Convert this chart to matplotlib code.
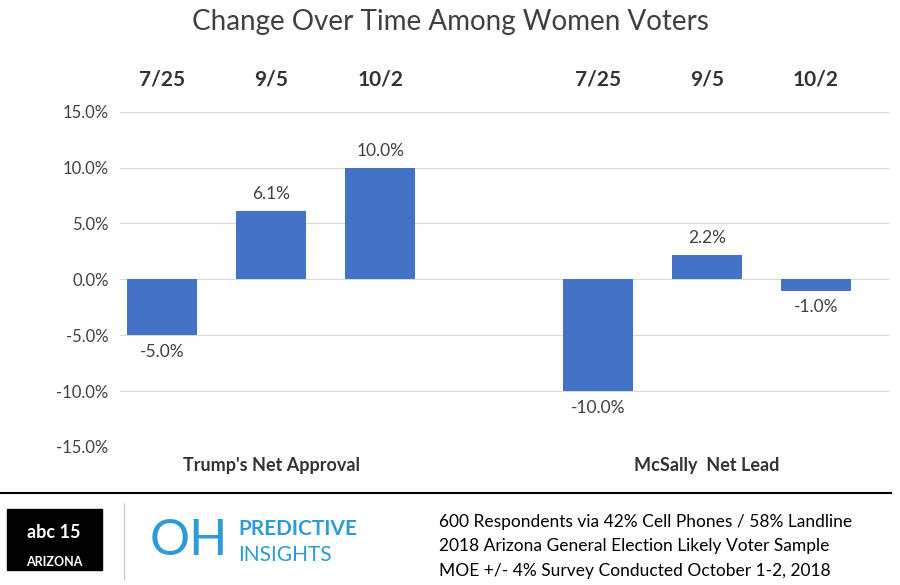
import matplotlib.pyplot as plt
from matplotlib.patches import Rectangle

plt.rcParams['font.family'] = ['Lato', 'DejaVu Sans']

dates = ['7/25', '9/5', '10/2', '7/25', '9/5', '10/2']
values = [-5.0, 6.1, 10.0, -10.0, 2.2, -1.0]
positions = [0, 1, 2, 4, 5, 6]
groups = ["Trump's Net Approval", "McSally  Net Lead"]
group_centers = [1, 5]
yticks = [-15, -10, -5, 0, 5, 10, 15]
footer = ['600 Respondents via 42% Cell Phones / 58% Landline',
          '2018 Arizona General Election Likely Voter Sample',
          'MOE +/- 4% Survey Conducted October 1-2, 2018']

fig = plt.figure(figsize=(9, 5.85), dpi=100)
ax = fig.add_axes([0.133, 0.236, 0.856, 0.573])
ax.bar(positions, values, width=0.64, color='#4472C4', zorder=3)
ax.set_xlim(-0.39, 6.68)
ax.set_ylim(-15, 15)
ax.set_yticks(yticks)
ax.set_yticklabels([f'{v:.1f}%' for v in yticks], fontsize=12, color='#404040')
ax.set_xticks([])
ax.grid(axis='y', color='#d9d9d9', zorder=0)
for s in ax.spines.values():
    s.set_visible(False)
ax.tick_params(axis='y', length=0, pad=8)

for x, v, d in zip(positions, values, dates):
    off = 0.8 if v >= 0 else -0.8
    ax.text(x, v + off, f'{v:.1f}%', ha='center', va='bottom' if v >= 0 else 'top',
            fontsize=12.5, color='#404040')
    ax.text(x, 17.9, d, ha='center', va='center', fontsize=15, fontweight='bold', color='#333333')

for c, g in zip(group_centers, groups):
    ax.text(c, -16.7, g, ha='center', va='center', fontsize=13, fontweight='bold', color='#333333')

fig.text(0.5, 0.962, 'Change Over Time Among Women Voters', ha='center', va='center',
         fontsize=20, color='#404040')

fig.add_artist(plt.Line2D([0.0, 0.99], [0.157, 0.157], color='black', lw=1.5))
for i, t in enumerate(footer):
    fig.text(0.488, 0.108 - i * 0.042, t, ha='left', va='center', fontsize=12.5, color='black')

# logos (approximate)
fig.patches.append(Rectangle((0.008, 0.025), 0.105, 0.105, transform=fig.transFigure,
                             color='black'))
fig.text(0.06, 0.09, 'abc 15', ha='center', va='center', color='white', fontsize=13, fontweight='bold')
fig.text(0.06, 0.04, 'ARIZONA', ha='center', va='center', color='white', fontsize=9, fontweight='bold')
fig.add_artist(plt.Line2D([0.138, 0.138], [0.01, 0.14], color='#cccccc', lw=1))
fig.text(0.21, 0.075, 'OH', ha='center', va='center', color='#2e9bd6', fontsize=36)
fig.text(0.265, 0.095, 'PREDICTIVE', ha='left', va='center', color='#2e9bd6', fontsize=15,
         fontweight='bold')
fig.text(0.265, 0.052, 'INSIGHTS', ha='left', va='center', color='#2e9bd6', fontsize=15)

fig.savefig('out.png', dpi=100)
